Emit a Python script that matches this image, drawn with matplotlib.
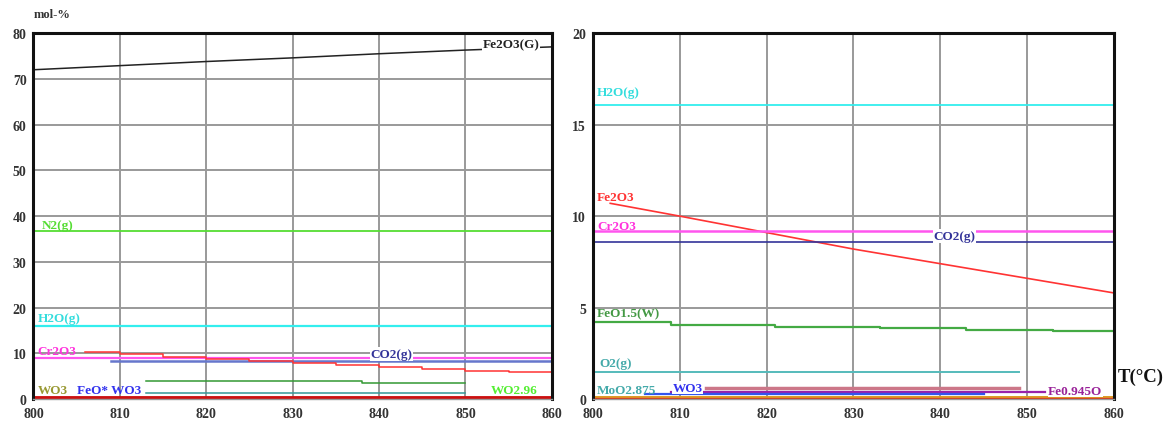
import matplotlib.pyplot as plt
import numpy as np

# temperatures and compositions
t_full = [800, 860]

# left panel (mol-%)
fe2o3g_t = [800, 810, 820, 830, 840, 850, 860]
fe2o3g = [72.0, 72.9, 73.8, 74.6, 75.5, 76.3, 77.0]
n2_left = [36.7, 36.7]
h2o_left = [16.0, 16.0]
cr2o3_left = [8.9, 8.9]
co2_left_t = [809, 860]
co2_left = [8.3, 8.3]
fe2o3_left_t = [806, 810, 815, 820, 825, 830, 835, 840, 845, 850, 855, 860]
fe2o3_left = [10.3, 9.9, 9.3, 8.8, 8.3, 7.9, 7.4, 7.0, 6.6, 6.2, 5.9, 5.5]
wo3_left_t = [813, 838, 838, 850]
wo3_left = [3.9, 3.9, 3.5, 3.5]
teal_left_t = [813, 850]
teal_left = [1.3, 1.3]
bottom_left = [0.3, 0.3]

# right panel (mol-%)
h2o_right = [16.1, 16.1]
fe2o3_right_t = [802, 810, 820, 830, 840, 850, 860]
fe2o3_right = [10.7, 10.0, 9.1, 8.2, 7.4, 6.6, 5.8]
cr2o3_right = [9.2, 9.2]
co2_right = [8.6, 8.6]
feo15_t = [800, 809, 809, 821, 821, 833, 833, 843, 843, 853, 853, 860]
feo15 = [4.2, 4.2, 4.05, 4.05, 3.95, 3.95, 3.88, 3.88, 3.8, 3.8, 3.7, 3.7]
o2_t = [800, 849]
o2 = [1.5, 1.5]
moo2_t = [813, 849]
moo2 = [0.6, 0.6]
fe0945o_t = [809, 852]
fe0945o = [0.4, 0.4]
wo3_right_t = [806, 845]
wo3_right = [0.3, 0.3]
orange_right = [0.12, 0.12]
red_right = [0.03, 0.03]

xticks = [800, 810, 820, 830, 840, 850, 860]
left_yticks = [0, 10, 20, 30, 40, 50, 60, 70, 80]
right_yticks = [0, 5, 10, 15, 20]

plt.rcParams['font.family'] = ['Liberation Serif', 'DejaVu Serif']

fig = plt.figure(figsize=(11.74, 4.27), dpi=100)
ax1 = fig.add_axes([0.0285, 0.063, 0.4415, 0.857])
ax2 = fig.add_axes([0.505, 0.063, 0.444, 0.857])


def style(ax, yticks, ymax):
    ax.set_xlim(800, 860)
    ax.set_ylim(0, ymax)
    ax.set_xticks(xticks)
    ax.set_yticks(yticks)
    ax.set_xticklabels([str(v) for v in xticks], fontweight='bold', fontsize=10, color='#333333')
    ax.set_yticklabels([str(v) for v in yticks], fontweight='bold', fontsize=10, color='#333333')
    ax.tick_params(axis='x', length=0, pad=6)
    ax.tick_params(axis='y', length=0, pad=5)
    ax.grid(True, color='#999999', linewidth=1.4)
    ax.set_axisbelow(True)
    for side in ['top', 'left', 'right']:
        ax.spines[side].set_linewidth(2.2)
        ax.spines[side].set_color('#111111')
    ax.spines['bottom'].set_linewidth(1.0)
    ax.spines['bottom'].set_color('#999999')


style(ax1, left_yticks, 80)
style(ax2, right_yticks, 20)

# left panel lines
ax1.plot(fe2o3g_t, fe2o3g, color='#222222', lw=1.1)
ax1.plot(t_full, n2_left, color='#55dd33', lw=1.3)
ax1.plot(t_full, h2o_left, color='#33eeee', lw=1.6)
ax1.plot(t_full, cr2o3_left, color='#ff55ee', lw=1.6)
ax1.plot(co2_left_t, co2_left, color='#6677cc', lw=1.8)
ax1.plot(fe2o3_left_t, fe2o3_left, color='#ff3333', lw=1.1, drawstyle='steps-post')
ax1.plot(wo3_left_t, wo3_left, color='#339933', lw=1.1)
ax1.plot(teal_left_t, teal_left, color='#339999', lw=1.1)
ax1.plot(t_full, bottom_left, color='#cc1111', lw=3.5, solid_capstyle='butt')

lbl = dict(fontsize=9.5, fontweight='bold')
ax1.text(852, 77.0, 'Fe2O3(G)', color='#222222', bbox=dict(fc='white', ec='none', pad=0.5), **lbl)
ax1.text(801, 37.4, 'N2(g)', color='#55dd33', **lbl)
ax1.text(800.5, 17.0, 'H2O(g)', color='#33dddd', **lbl)
ax1.text(800.5, 9.8, 'Cr2O3', color='#ff33dd', **lbl)
ax1.text(839, 9.2, 'CO2(g)', color='#333399', bbox=dict(fc='white', ec='none', pad=0.5), **lbl)
ax1.text(800.5, 1.3, 'WO3', color='#999933', **lbl)
ax1.text(805, 1.3, 'FeO* WO3', color='#3333ee', **lbl)
ax1.text(853, 1.3, 'WO2.96', color='#55ee33', **lbl)
ax1.text(0.0, 1.045, 'mol-%', transform=ax1.transAxes, fontsize=9, fontweight='bold', color='#333333')

# right panel lines
ax2.plot(t_full, h2o_right, color='#33eeee', lw=1.3)
ax2.plot(fe2o3_right_t, fe2o3_right, color='#ff3333', lw=1.2)
ax2.plot(t_full, cr2o3_right, color='#ff55ee', lw=1.8)
ax2.plot(t_full, co2_right, color='#333399', lw=1.2)
ax2.plot(feo15_t, feo15, color='#44aa44', lw=1.6)
ax2.plot(o2_t, o2, color='#55bbbb', lw=1.4)
ax2.plot(moo2_t, moo2, color='#cc7788', lw=2.5)
ax2.plot(fe0945o_t, fe0945o, color='#9922aa', lw=1.6)
ax2.plot(wo3_right_t, wo3_right, color='#3355ee', lw=1.6)
ax2.plot(t_full, orange_right, color='#dd9922', lw=1.4)
ax2.plot(t_full, red_right, color='#dd3311', lw=1.6)

ax2.text(800.5, 16.6, 'H2O(g)', color='#33dddd', **lbl)
ax2.text(800.5, 10.9, 'Fe2O3', color='#ff3333', **lbl)
ax2.text(800.5, 9.3, 'Cr2O3', color='#ff33dd', **lbl)
ax2.text(839.2, 8.75, 'CO2(g)', color='#333399', bbox=dict(fc='white', ec='none', pad=0.5), **lbl)
ax2.text(800.5, 4.5, 'FeO1.5(W)', color='#449944', **lbl)
ax2.text(800.8, 1.8, 'O2(g)', color='#44aaaa', **lbl)
ax2.text(800.5, 0.35, 'MoO2.875', color='#44aaaa', **lbl)
ax2.text(809.2, 0.45, 'WO3', color='#3333ee', bbox=dict(fc='white', ec='none', pad=0.3), **lbl)
ax2.text(852.4, 0.3, 'Fe0.945O', color='#992299', bbox=dict(fc='white', ec='none', pad=0.3), **lbl)
ax2.text(1.007, 0.05, 'T(°C)', transform=ax2.transAxes, fontsize=13.5, fontweight='bold', color='#111111')

plt.savefig('out.png', dpi=100)
